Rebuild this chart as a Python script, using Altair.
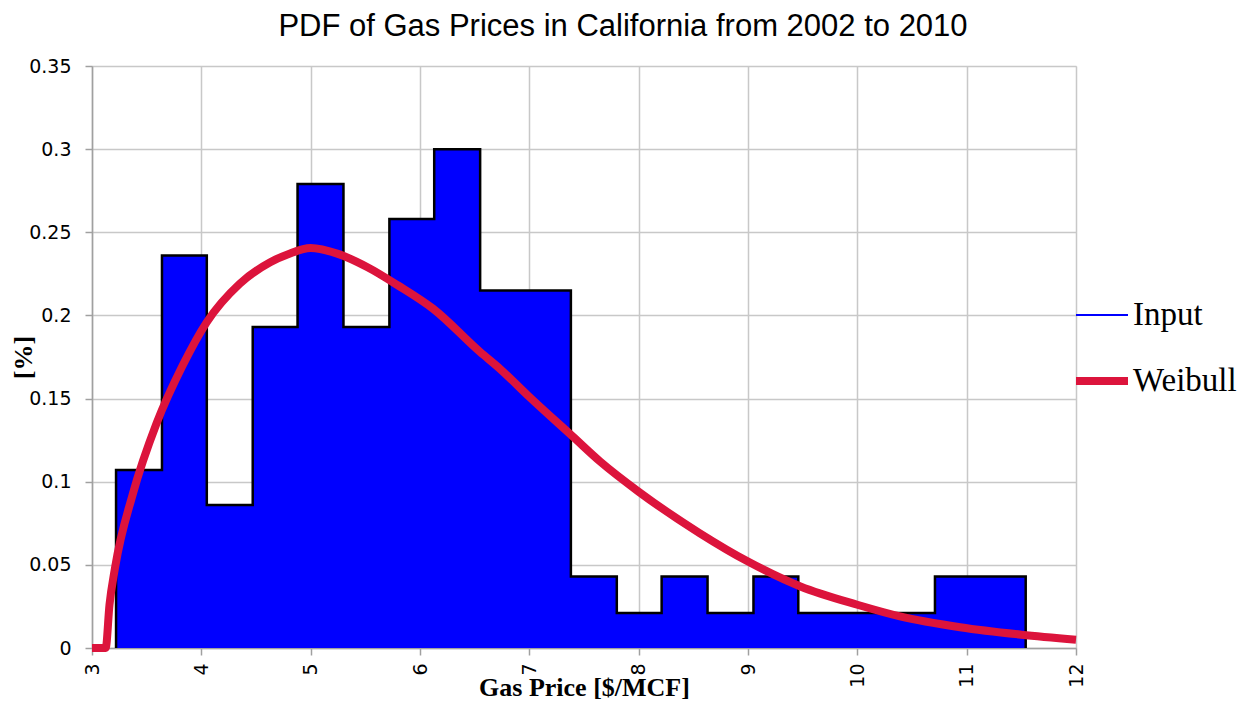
import altair as alt
import pandas as pd

# Histogram bin edges and densities
edges = [3.22, 3.64, 4.05, 4.47, 4.88, 5.30, 5.72, 6.13, 6.55, 6.97, 7.38,
         7.80, 8.21, 8.63, 9.05, 9.46, 9.88, 10.30, 10.71, 11.13, 11.54]
density = [0.107, 0.236, 0.086, 0.193, 0.279, 0.193, 0.258, 0.300, 0.215, 0.215,
           0.043, 0.021, 0.043, 0.021, 0.043, 0.021, 0.021, 0.021, 0.043, 0.043]

# Weibull curve points
curve_x = [3.0, 3.125, 3.16, 3.21, 3.375, 3.59, 3.83, 4.05, 4.35, 4.63, 4.8, 5.0, 5.25,
           5.52, 5.8, 6.12, 6.55, 6.73, 7.0, 7.40, 7.65, 8.0, 8.56, 9.0, 9.48, 10.0,
           10.39, 10.94, 11.5, 12.0]
curve_y = [0.0, 0.0, 0.026, 0.048, 0.093, 0.135, 0.170, 0.196, 0.219, 0.232, 0.237, 0.2405, 0.237,
           0.229, 0.218, 0.204, 0.178, 0.168, 0.151, 0.127, 0.112, 0.094, 0.069, 0.052, 0.037, 0.026,
           0.019, 0.0125, 0.008, 0.005]

series = ["Input", "Weibull"]
x_ticks = [3, 4, 5, 6, 7, 8, 9, 10, 11, 12]
y_ticks = [0, 0.05, 0.1, 0.15, 0.2, 0.25, 0.3, 0.35]

area_df = pd.DataFrame({"x": edges, "y": density + [0.0]})
line_df = pd.DataFrame({
    "x": [edges[0]] + edges,
    "y": [0.0] + density + [0.0],
    "i": list(range(len(edges) + 1)),
})
curve_df = pd.DataFrame({"x": curve_x, "y": curve_y, "series": "Weibull"})

xscale = alt.Scale(domain=[3, 12], nice=False, zero=False)
yscale = alt.Scale(domain=[0, 0.35], nice=False)

xaxis = alt.Axis(
    values=x_ticks, format="d", labelAngle=270, grid=True, gridColor="#c8c8c8", gridWidth=1.5,
    domainColor="#a0a0a0", domainWidth=1.5, tickColor="#a0a0a0", tickSize=7, tickWidth=1.5,
    labelFont="DejaVu Sans", labelFontSize=19, labelColor="black", labelPadding=8,
    title="Gas Price [$/MCF]", titleFont="Liberation Serif", titleFontSize=26,
    titleFontWeight="bold", titleColor="black", titleY=47, titleBaseline="alphabetic",
)
yaxis = alt.Axis(
    values=y_ticks, format="~g", grid=True, gridColor="#c8c8c8", gridWidth=1.5,
    domainColor="#a0a0a0", domainWidth=1.5, tickColor="#a0a0a0", tickSize=7, tickWidth=1.5,
    labelFont="DejaVu Sans", labelFontSize=19, labelColor="black", labelPadding=14,
    title="[%]", titleFont="Liberation Serif", titleFontSize=26, titleFontWeight="bold",
    titleColor="black", titleX=-69, titleY=291, titleAngle=270, titleBaseline="middle",
)

area = alt.Chart(area_df).mark_area(interpolate="step-after", color="#0000ff").encode(
    x=alt.X("x:Q", scale=xscale, axis=xaxis),
    y=alt.Y("y:Q", scale=yscale, axis=yaxis),
)
outline = alt.Chart(line_df).mark_line(interpolate="step-after", color="black", strokeWidth=2.5).encode(
    x="x:Q", y="y:Q", order="i:Q",
)
legend = alt.Legend(
    orient="none", legendX=980, legendY=222, title=None, labelFont="Liberation Serif",
    labelFontSize=33, labelColor="black", symbolType="stroke", symbolSize=2704,
    labelOffset=1, rowPadding=19, padding=0,
)
weibull = alt.Chart(curve_df).mark_line(interpolate="monotone", strokeCap="butt").encode(
    x="x:Q", y="y:Q",
    color=alt.Color("series:N", scale=alt.Scale(domain=series, range=["#0000ff", "#dc143c"]), legend=legend),
    strokeWidth=alt.StrokeWidth("series:N", scale=alt.Scale(domain=series, range=[2, 8]), legend=legend),
)

chart = alt.layer(area, outline, weibull).properties(
    width=984, height=582,
    padding={"left": 84, "top": 58, "right": 168, "bottom": 52},
    autosize=alt.AutoSizeParams(type="none"),
    title=alt.TitleParams(
        "PDF of Gas Prices in California from 2002 to 2010", font="Liberation Sans",
        fontSize=31, fontWeight="normal", color="black", anchor="middle", dx=39, offset=14,
    ),
).configure_view(fill="#f4f4f4", strokeWidth=0).configure(background="white")

chart.save("out.html", embed_options={"renderer": "svg", "actions": False})
